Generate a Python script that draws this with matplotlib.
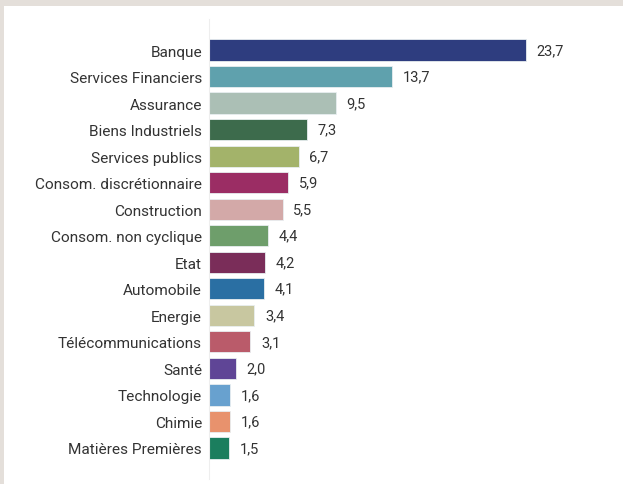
import matplotlib
matplotlib.use("Agg")
import matplotlib.pyplot as plt
from matplotlib.patches import Rectangle

categories = ["Banque", "Services Financiers", "Assurance", "Biens Industriels",
              "Services publics", "Consom. discrétionnaire", "Construction",
              "Consom. non cyclique", "Etat", "Automobile", "Energie",
              "Télécommunications", "Santé", "Technologie", "Chimie",
              "Matières Premières"]
values = [23.7, 13.7, 9.5, 7.3, 6.7, 5.9, 5.5, 4.4, 4.2, 4.1, 3.4, 3.1, 2.0, 1.6, 1.6, 1.5]
colors = ["#2e3d7f", "#5fa1ad", "#abbfb5", "#3d6b4c", "#a3b36a", "#9b2d64",
          "#d3a9a8", "#6e9e6b", "#7a2d59", "#2a6fa3", "#c8c7a0", "#ba5b6a",
          "#5f4596", "#68a1cf", "#e8926d", "#1b7e5e"]

plt.rcParams['font.family'] = ['Roboto', 'DejaVu Sans']

W, H = 623, 485
fig = plt.figure(figsize=(W/100, H/100), dpi=100)
fig.patch.set_facecolor("#e4dfda")
fig.add_artist(Rectangle((4/W, 0), 1, 1 - 7/H, transform=fig.transFigure,
                         facecolor="white", edgecolor="none", zorder=0))

ax = fig.add_axes([209/W, 1 - 480/H, (610-209)/W, (480-20)/H])
ax.set_facecolor("none")
y = list(range(len(categories)))
ax.barh(y, values, height=0.8, color=colors, edgecolor="#e8eef0", linewidth=0.6)
ax.set_ylim(len(categories) - 1 + 1.17, -1.17)
ax.set_xlim(0, 30)
ax.set_yticks(y)
ax.set_yticklabels(categories, fontsize=11.1, color="#333333")
ax.tick_params(axis="y", length=0, pad=5)
ax.set_xticks([])
for s in ["top", "right", "bottom"]:
    ax.spines[s].set_visible(False)
ax.spines["left"].set_color("#eeeeee")
ax.spines["left"].set_linewidth(0.8)

for yi, v in zip(y, values):
    ax.text(v + 0.8, yi, f"{v:.1f}".replace(".", ","), va="center", ha="left",
            fontsize=10.5, color="#333333")

fig.savefig("out.png", dpi=100)
